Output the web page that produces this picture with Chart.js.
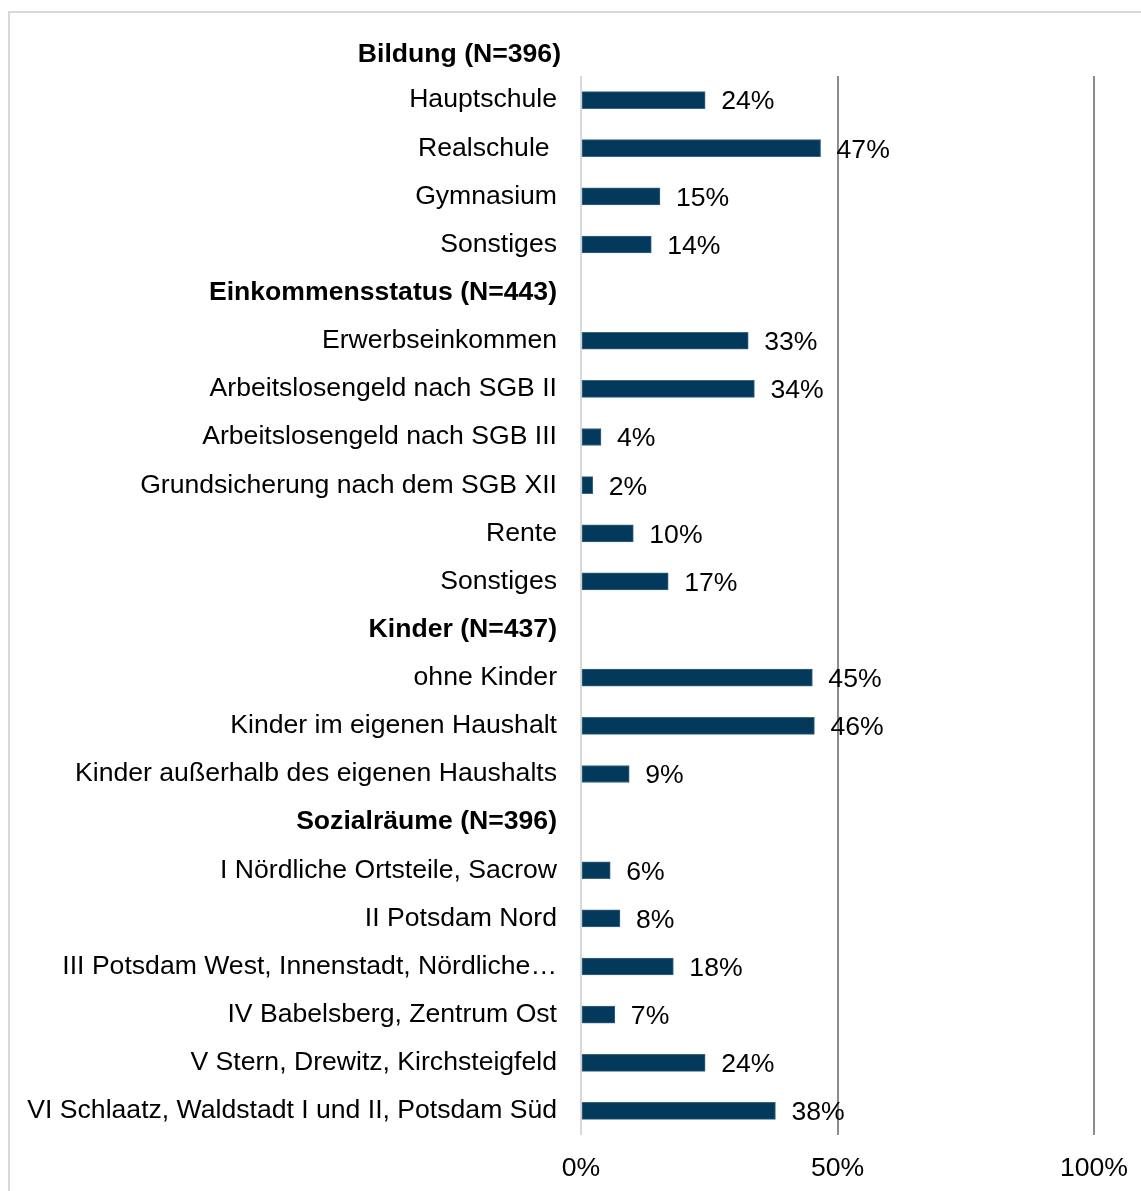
<!DOCTYPE html>
<html>
<head>
<meta charset="utf-8">
<script src="https://cdn.jsdelivr.net/npm/chart.js@4.4.1/dist/chart.umd.min.js"></script>
<style>
  body { margin: 0; background: #fff; }
  #wrap { position: relative; width: 1141px; height: 1191px; overflow: hidden; }
  #frame { position: absolute; left: 8px; top: 11px; width: 1200px; height: 1250px; border: 2px solid #d9d9d9; box-sizing: border-box; }
  #chart { position: absolute; left: 0; top: 0; }
</style>
</head>
<body>
<div id="wrap">
  <div id="frame"></div>
  <canvas id="chart" width="1141" height="1191"></canvas>
</div>
<script>
// Überschrift über dem Diagramm
var firstHeader = "Bildung (N=396)";

// Kategorien (Gruppenüberschriften haben keinen Balken)
var categories = [
  "Hauptschule",
  "Realschule ",
  "Gymnasium",
  "Sonstiges",
  "Einkommensstatus (N=443)",
  "Erwerbseinkommen",
  "Arbeitslosengeld nach SGB II",
  "Arbeitslosengeld nach SGB III",
  "Grundsicherung nach dem SGB XII",
  "Rente",
  "Sonstiges",
  "Kinder (N=437)",
  "ohne Kinder",
  "Kinder im eigenen Haushalt",
  "Kinder außerhalb des eigenen Haushalts",
  "Sozialräume (N=396)",
  "I Nördliche Ortsteile, Sacrow",
  "II Potsdam Nord",
  "III Potsdam West, Innenstadt, Nördliche…",
  "IV Babelsberg, Zentrum Ost",
  "V Stern, Drewitz, Kirchsteigfeld",
  "VI Schlaatz, Waldstadt I und II, Potsdam Süd"
];

var headers = ["Einkommensstatus (N=443)", "Kinder (N=437)", "Sozialräume (N=396)"];

// Anteile in %, null = Überschriftzeile
var shares = [
  24.2, 46.7, 15.4, 13.7,
  null, 32.6, 33.8, 3.9, 2.3, 10.2, 17.0,
  null, 45.1, 45.5, 9.4,
  null, 5.7, 7.6, 18.0, 6.6, 24.2, 37.9
];

var xTicks = [0, 50, 100];

var FONT = "'Liberation Sans', Arial, sans-serif";
var SIZE = 26.6;

var labelPlugin = {
  id: "barLabels",
  afterDatasetsDraw(chart) {
    var ctx = chart.ctx;
    var meta = chart.getDatasetMeta(0);
    ctx.save();
    ctx.font = SIZE + "px " + FONT;
    ctx.fillStyle = "#000";
    ctx.textAlign = "left";
    ctx.textBaseline = "middle";
    meta.data.forEach(function (bar, i) {
      var v = shares[i];
      if (v === null) return;
      ctx.fillText(Math.round(v) + "%", bar.x + 16, bar.y + 2);
    });
    // erste Gruppenüberschrift steht über der Zeichenfläche
    ctx.font = "bold " + SIZE + "px " + FONT;
    ctx.textAlign = "right";
    ctx.fillText(firstHeader, chart.chartArea.left - 20, chart.chartArea.top - 21);
    ctx.restore();
  }
};

new Chart(document.getElementById("chart"), {
  type: "bar",
  data: {
    labels: categories,
    datasets: [{
      data: shares,
      backgroundColor: "#03395a",
      borderColor: "#3a6683",
      borderWidth: 1,
      borderSkipped: false,
      barThickness: 17
    }]
  },
  options: {
    indexAxis: "y",
    responsive: false,
    animation: false,
    layout: { padding: { left: 0, right: 47, top: 76, bottom: 0 } },
    plugins: {
      legend: { display: false },
      tooltip: { enabled: false }
    },
    scales: {
      x: {
        min: 0,
        max: 100,
        afterBuildTicks: function (scale) {
          scale.ticks = xTicks.map(function (v) { return { value: v }; });
        },
        afterFit: function (scale) {
          scale.height = 56;
          scale.paddingLeft = 0;
          scale.paddingRight = 0;
        },
        border: { display: false },
        grid: {
          drawTicks: false,
          lineWidth: 2,
          color: function (c) { return c.tick && c.tick.value === 0 ? "#d9d9d9" : "#8c8c8c"; }
        },
        ticks: {
          padding: 18,
          color: "#000",
          font: { family: FONT, size: SIZE },
          callback: function (v) { return v + "%"; }
        }
      },
      y: {
        afterFit: function (scale) { scale.width = 581; },
        border: { display: false },
        grid: { display: false, drawTicks: false },
        ticks: {
          padding: 24,
          color: "#000",
          autoSkip: false,
          font: function (c) {
            var lbl = categories[c.index];
            return { family: FONT, size: SIZE, weight: headers.indexOf(lbl) >= 0 ? "bold" : "normal" };
          }
        }
      }
    }
  },
  plugins: [labelPlugin]
});
</script>
</body>
</html>
